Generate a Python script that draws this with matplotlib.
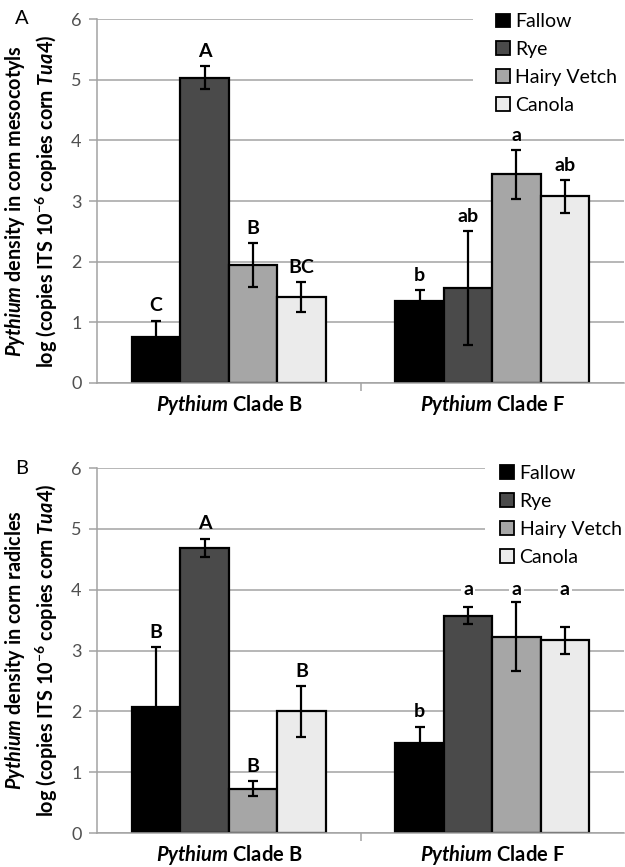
import matplotlib
matplotlib.use("Agg")
import matplotlib.pyplot as plt
from matplotlib.patches import Patch, Rectangle
import numpy as np

plt.rcParams['font.family'] = ['Lato', 'DejaVu Sans']
plt.rcParams['mathtext.fontset'] = 'custom'
plt.rcParams['mathtext.rm'] = 'Lato:bold'
plt.rcParams['mathtext.it'] = 'Lato:italic:bold'
plt.rcParams['mathtext.bf'] = 'Lato:bold'

categories = [r"$\it{Pythium}$ Clade B", r"$\it{Pythium}$ Clade F"]
treatments = ["Fallow", "Rye", "Hairy Vetch", "Canola"]
colors = ["#000000", "#4a4a4a", "#a6a6a6", "#ebebeb"]

# Panel A: mesocotyls  (rows = treatment, cols = clade B, clade F)
a_means = [[0.76, 1.35], [5.03, 1.56], [1.94, 3.44], [1.42, 3.08]]
a_errs = [[0.27, 0.18], [0.19, 0.94], [0.36, 0.40], [0.25, 0.27]]
a_letters = [["C", "b"], ["A", "ab"], ["B", "a"], ["BC", "ab"]]

# Panel B: radicles
b_means = [[2.07, 1.48], [4.69, 3.57], [0.73, 3.23], [2.00, 3.17]]
b_errs = [[0.98, 0.27], [0.15, 0.14], [0.12, 0.57], [0.42, 0.22]]
b_letters = [["B", "b"], ["A", "a"], ["B", "a"], ["B", "a"]]

ylabel_a = "$\\it{Pythium}$ density in corn mesocotyls\nlog (copies ITS 10$^{-6}$ copies corn $\\it{Tua4}$)"
ylabel_b = "$\\it{Pythium}$ density in corn radicles\nlog (copies ITS 10$^{-6}$ copies corn $\\it{Tua4}$)"

W, H = 625, 867
fig = plt.figure(figsize=(W / 100, H / 100), dpi=100)

def px_axes(l, t, r, b):
    return fig.add_axes([l / W, 1 - b / H, (r - l) / W, (b - t) / H])

grid_c = "#a3a3a3"
width = 0.184
x = np.arange(len(categories))

def panel(ax, means, errs, letters, ylabel, letter, leg_anchor, mask_x, fixed_label=None):
    ax.set_xlim(-0.5, 1.5)
    ax.set_ylim(0, 6)
    ax.set_yticks(range(7))
    ax.yaxis.grid(True, color=grid_c, lw=1.1, zorder=0)
    ax.set_axisbelow(True)
    for s in ["top", "right"]:
        ax.spines[s].set_visible(False)
    for s in ["left", "bottom"]:
        ax.spines[s].set_color(grid_c)
        ax.spines[s].set_linewidth(1.1)
    ax.tick_params(axis="y", colors=grid_c, length=6, width=1.1, labelcolor="#505050",
                   labelsize=13, pad=5)
    ax.set_xticks(x)
    ax.set_xticklabels(categories, fontsize=14.5, fontweight="bold")
    ax.tick_params(axis="x", length=0, pad=7)
    ax.set_xticks([0.5], minor=True)
    ax.tick_params(axis="x", which="minor", length=6, width=1.1, color=grid_c)
    # white area behind the legend that interrupts the gridlines
    ax.add_patch(Rectangle((mask_x, 4.4 / 6), 1.0 - mask_x, 2.0 / 6,
                           transform=ax.transAxes, facecolor="white", edgecolor="none",
                           zorder=1, clip_on=False))
    for i, t in enumerate(treatments):
        xs = x + (i - 1.5) * width
        ax.bar(xs, means[i], width, color=colors[i], edgecolor="black", lw=1.6,
               zorder=2, label=t)
        ax.errorbar(xs, means[i], yerr=errs[i], fmt="none", ecolor="black",
                    elinewidth=1.6, capsize=3.5, capthick=1.6, zorder=3)
        for j in range(len(categories)):
            if fixed_label is not None and fixed_label[i][j] is not None:
                ax.text(xs[j], fixed_label[i][j], letters[i][j], ha="center", va="center",
                        fontsize=14, fontweight="bold", zorder=4,
                        bbox=dict(facecolor="white", edgecolor="none", pad=1.5))
            else:
                ax.text(xs[j], means[i][j] + errs[i][j] + 0.1, letters[i][j],
                        ha="center", va="bottom", fontsize=14, fontweight="bold", zorder=4)
    ax.set_ylabel(ylabel, fontsize=14.3, fontweight="bold", labelpad=8, linespacing=1.35)
    ax.text(-0.155, 1.0, letter, transform=ax.transAxes, fontsize=14.5, ha="left", va="center")
    handles = [Patch(facecolor=c, edgecolor="black", lw=1.3) for c in colors]
    leg = ax.legend(handles, treatments, loc="upper left", bbox_to_anchor=leg_anchor,
                    fontsize=14, frameon=False, handlelength=0.7, handleheight=0.7,
                    handletextpad=0.3, labelspacing=0.56, borderpad=0,
                    borderaxespad=0)
    leg.set_zorder(5)

ax1 = px_axes(97, 19, 624, 383)
panel(ax1, a_means, a_errs, a_letters, ylabel_a, "A", (0.757, 1.016), 0.713)

ax2 = px_axes(97, 468, 624, 833)
fixed = [[None, None], [None, 4.0], [None, 4.0], [None, 4.0]]
panel(ax2, b_means, b_errs, b_letters, ylabel_b, "B", (0.765, 1.008), 0.737, fixed_label=fixed)

fig.savefig("out.png", dpi=100, facecolor="white")
